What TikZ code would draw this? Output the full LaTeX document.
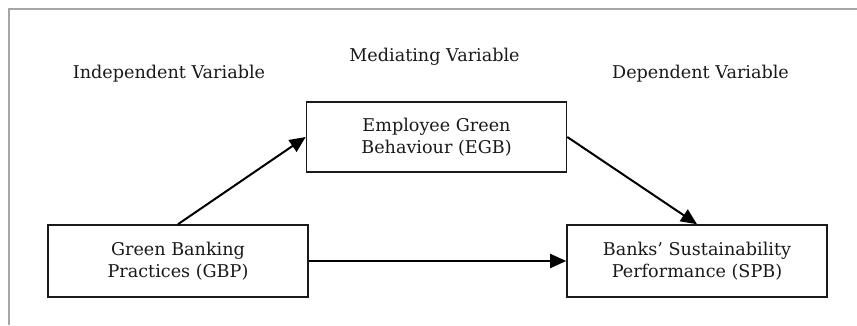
\documentclass[tikz,border=0pt]{standalone}
\usepackage{fontspec}
\setmainfont{DejaVu Serif}
\usetikzlibrary{arrows.meta}
\definecolor{framegray}{HTML}{A6A6A6}
\definecolor{inkc}{HTML}{1A1A1A}
\begin{document}
\begin{tikzpicture}[x=1pt,y=-1pt,
  varbox/.style={draw=inkc, line width=1.6pt, rectangle, inner sep=0pt,
    minimum width=260pt, align=center, text=inkc,
    font=\fontsize{17.6pt}{21.5pt}\selectfont},
  head/.style={anchor=base, inner sep=0pt, text=inkc,
    font=\fontsize{17.6pt}{21.5pt}\selectfont},
  conn/.style={draw=black, line width=2pt, -{Triangle[length=16pt,width=14pt]}}]
\useasboundingbox (0,0) rectangle (857,325);
\fill[white] (0,0) rectangle (857,325);
% frame (only top and left edges visible)
\draw[framegray, line width=2.2pt] (9,325) -- (9,9) -- (857,9);
% headings
\node[head] (hind) at (169,78) {Independent Variable};
\node[head] (hmed) at (434.5,61.5) {Mediating Variable};
\node[head] (hdep) at (700.5,78) {Dependent Variable};
% boxes
\node[varbox, minimum height=72pt] (gbp) at (178,261) {Green Banking\\Practices (GBP)};
\node[varbox, minimum height=72pt] (spb) at (697,261) {Banks’ Sustainability\\Performance (SPB)};
\node[varbox, minimum height=70pt] (egb) at (436.5,137) {Employee Green\\Behaviour (EGB)};
% connectors
\draw[conn] (gbp.north) -- (egb.west);
\draw[conn] (egb.east) -- (spb.north);
\draw[conn] (gbp.east) -- (spb.west);
\end{tikzpicture}
\end{document}
